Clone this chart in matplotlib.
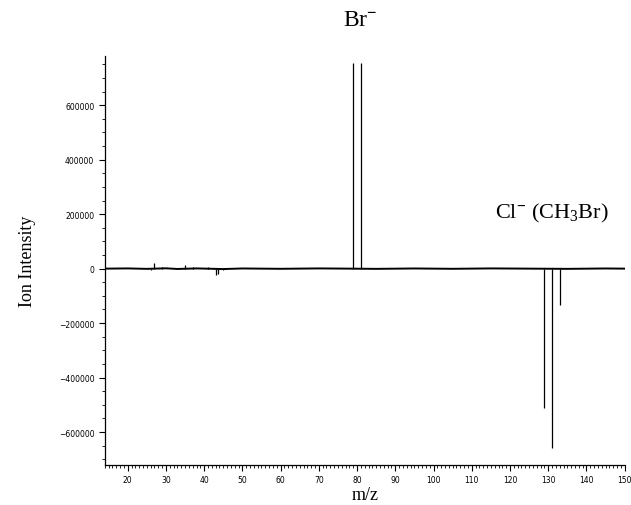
#!/usr/bin/env python3
"""Negative-ion mass spectrum: Br- (up) vs Cl- (CH3Br) (down)."""
import matplotlib
matplotlib.use("Agg")
import matplotlib.pyplot as plt
from matplotlib.ticker import MultipleLocator

plt.rcParams["mathtext.fontset"] = "custom"
plt.rcParams["mathtext.rm"] = "Liberation Serif"
plt.rcParams["mathtext.it"] = "Liberation Serif:italic"
plt.rcParams["mathtext.bf"] = "Liberation Serif:bold"

# peaks (m/z, ion intensity)
up_mz = [27, 29, 35, 37, 41, 79, 81]
up_int = [22000, 6000, 12000, 5000, 6000, 755000, 755000]
down_mz = [26, 43, 43.6, 45, 129, 131, 133]
down_int = [-6000, -22000, -20000, -5000, -510000, -660000, -132000]

# thin baseline trace (small hand-read wiggles)
base_mz = [14, 20, 25, 30, 33, 38, 45, 50, 60, 70, 78, 85, 95, 105, 115, 125, 135, 145, 150]
base_int = [0, 800, -800, 1200, -1200, 800, -1500, 600, -600, 800, 0, -800, 600, -600, 800, 0, -800, 600, 0]

fig = plt.figure(figsize=(6.31, 5.06), dpi=100)
ax = fig.add_axes([0.166, 0.079, 0.824, 0.808])

ax.plot(base_mz, base_int, color="black", lw=1.4)
ax.vlines(up_mz, 0, up_int, color="black", lw=0.9)
ax.vlines(down_mz, 0, down_int, color="black", lw=0.9)

ax.set_xlim(14, 150)
ax.set_ylim(-721000, 780000)
ax.xaxis.set_major_locator(MultipleLocator(10))
ax.xaxis.set_minor_locator(MultipleLocator(1))
ax.yaxis.set_major_locator(MultipleLocator(200000))
ax.yaxis.set_minor_locator(MultipleLocator(50000))
ax.tick_params(which="major", length=4, width=0.8, labelsize=5.5, direction="out")
ax.tick_params(which="minor", length=2, width=0.6, direction="out")
for s in ("top", "right"):
    ax.spines[s].set_visible(False)
ax.spines["left"].set_linewidth(0.9)
ax.spines["bottom"].set_linewidth(0.9)

serif = "Liberation Serif"
ax.set_xlabel("m/z", family=serif, fontsize=13, labelpad=1)
ax.set_ylabel("Ion Intensity", family=serif, fontsize=13, labelpad=16)

fig.text(360 / 631, 1 - 21 / 506, r"Br$^{\mathbf{-}}$", family=serif, fontsize=17,
         ha="center", va="center")
fig.text(552 / 631, 1 - 213 / 506, r"Cl$^{\mathbf{-}}$ (CH$_3$Br)", family=serif,
         fontsize=16, ha="center", va="center")

fig.savefig("out.png", dpi=100)
